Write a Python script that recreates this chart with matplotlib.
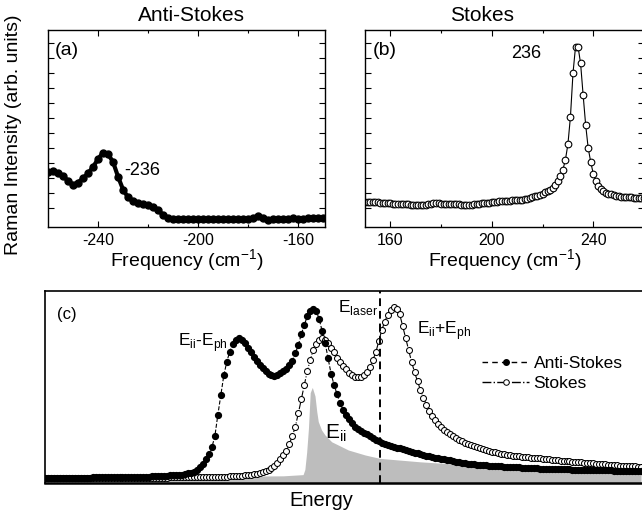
import matplotlib.pyplot as plt
import numpy as np

plt.rcParams['font.family'] = ['Liberation Sans', 'DejaVu Sans']
plt.rcParams['mathtext.fontset'] = 'custom'
plt.rcParams['mathtext.rm'] = 'Liberation Sans'
plt.rcParams['axes.unicode_minus'] = False

# (a) anti-Stokes spectrum
as_freq = np.arange(-260, -147, 2)
as_int = [0.278, 0.285, 0.275, 0.258, 0.235, 0.215, 0.225, 0.248, 0.272, 0.305,
          0.345, 0.378, 0.370, 0.330, 0.255, 0.190, 0.150, 0.132, 0.122, 0.117,
          0.112, 0.102, 0.085, 0.062, 0.046, 0.040, 0.039, 0.041, 0.040, 0.039,
          0.041, 0.040, 0.042, 0.040, 0.039, 0.041, 0.042, 0.041, 0.040, 0.042,
          0.043, 0.045, 0.056, 0.044, 0.038, 0.041, 0.042, 0.040, 0.043, 0.044,
          0.041, 0.043, 0.045, 0.044, 0.045, 0.046, 0.045]

# (b) Stokes spectrum
st_freq = np.arange(150, 261, 1)
st_int = [0.128, 0.128, 0.127, 0.126, 0.126, 0.125, 0.124, 0.123, 0.122, 0.121,
          0.120, 0.119, 0.118, 0.118, 0.117, 0.117, 0.116, 0.115, 0.114, 0.113,
          0.113, 0.112, 0.112, 0.112, 0.113, 0.115, 0.118, 0.120, 0.120, 0.120,
          0.119, 0.118, 0.117, 0.117, 0.117, 0.117, 0.116, 0.115, 0.114, 0.113,
          0.112, 0.112, 0.113, 0.115, 0.117, 0.119, 0.121, 0.122, 0.123, 0.124,
          0.125, 0.126, 0.128, 0.130, 0.131, 0.132, 0.133, 0.134, 0.135, 0.136,
          0.136, 0.137, 0.138, 0.140, 0.143, 0.147, 0.151, 0.155, 0.159, 0.163,
          0.169, 0.176, 0.183, 0.190, 0.200, 0.215, 0.236, 0.258, 0.290, 0.340,
          0.420, 0.560, 0.780, 0.915, 0.915, 0.830, 0.670, 0.518, 0.400, 0.330,
          0.270, 0.235, 0.210, 0.193, 0.183, 0.175, 0.169, 0.165, 0.161, 0.158,
          0.156, 0.154, 0.153, 0.152, 0.151, 0.150, 0.149, 0.148, 0.147, 0.146,
          0.146]

# (c) resonance profiles vs energy (arb. units)
energy = np.arange(0, 100.5, 0.5)
anti_stokes = [0.002, 0.002, 0.002, 0.002, 0.002, 0.002, 0.002, 0.003, 0.003, 0.003,
               0.003, 0.003, 0.003, 0.003, 0.003, 0.003, 0.004, 0.004, 0.004, 0.004,
               0.004, 0.004, 0.005, 0.005, 0.005, 0.005, 0.006, 0.006, 0.006, 0.007,
               0.007, 0.007, 0.008, 0.008, 0.009, 0.009, 0.010, 0.011, 0.011, 0.012,
               0.013, 0.014, 0.015, 0.016, 0.017, 0.018, 0.020, 0.023, 0.027, 0.032,
               0.038, 0.048, 0.062, 0.085, 0.110, 0.140, 0.180, 0.245, 0.370, 0.485,
               0.600, 0.680, 0.740, 0.785, 0.810, 0.817, 0.805, 0.790, 0.762, 0.735,
               0.706, 0.685, 0.663, 0.645, 0.625, 0.610, 0.600, 0.596, 0.602, 0.613,
               0.625, 0.640, 0.660, 0.685, 0.730, 0.778, 0.840, 0.895, 0.945, 0.975,
               0.988, 0.978, 0.930, 0.860, 0.790, 0.700, 0.610, 0.545, 0.490, 0.440,
               0.400, 0.370, 0.345, 0.320, 0.300, 0.287, 0.275, 0.265, 0.255, 0.244,
               0.234, 0.224, 0.215, 0.207, 0.199, 0.193, 0.187, 0.182, 0.177, 0.173,
               0.169, 0.164, 0.159, 0.154, 0.149, 0.144, 0.139, 0.135, 0.131, 0.127,
               0.123, 0.120, 0.117, 0.113, 0.110, 0.107, 0.103, 0.099, 0.096, 0.092,
               0.088, 0.086, 0.084, 0.082, 0.080, 0.078, 0.077, 0.075, 0.074, 0.073,
               0.072, 0.070, 0.069, 0.068, 0.067, 0.066, 0.065, 0.064, 0.063, 0.062,
               0.060, 0.059, 0.058, 0.058, 0.057, 0.056, 0.055, 0.055, 0.054, 0.054,
               0.053, 0.052, 0.052, 0.051, 0.051, 0.050, 0.050, 0.049, 0.049, 0.048,
               0.048, 0.048, 0.047, 0.047, 0.047, 0.046, 0.046, 0.046, 0.045, 0.045,
               0.045, 0.044, 0.044, 0.044, 0.044, 0.043, 0.043, 0.043, 0.043, 0.042,
               0.042]
stokes = [0.001, 0.001, 0.001, 0.001, 0.001, 0.001, 0.001, 0.001, 0.001, 0.001,
          0.001, 0.001, 0.001, 0.001, 0.001, 0.001, 0.001, 0.001, 0.001, 0.001,
          0.001, 0.002, 0.002, 0.002, 0.002, 0.002, 0.002, 0.002, 0.002, 0.002,
          0.002, 0.002, 0.002, 0.002, 0.003, 0.003, 0.003, 0.003, 0.003, 0.003,
          0.003, 0.003, 0.004, 0.004, 0.004, 0.004, 0.004, 0.005, 0.005, 0.005,
          0.005, 0.005, 0.005, 0.006, 0.006, 0.006, 0.006, 0.007, 0.007, 0.008,
          0.008, 0.009, 0.010, 0.011, 0.012, 0.013, 0.014, 0.015, 0.017, 0.019,
          0.022, 0.025, 0.030, 0.036, 0.042, 0.048, 0.058, 0.072, 0.090, 0.110,
          0.135, 0.160, 0.200, 0.245, 0.300, 0.378, 0.460, 0.545, 0.625, 0.690,
          0.749, 0.785, 0.808, 0.817, 0.805, 0.788, 0.760, 0.735, 0.705, 0.680,
          0.655, 0.635, 0.615, 0.600, 0.592, 0.589, 0.593, 0.603, 0.622, 0.650,
          0.690, 0.735, 0.800, 0.865, 0.915, 0.955, 0.985, 0.998, 0.990, 0.960,
          0.890, 0.820, 0.750, 0.680, 0.620, 0.565, 0.515, 0.470, 0.427, 0.395,
          0.365, 0.338, 0.315, 0.298, 0.282, 0.268, 0.256, 0.244, 0.234, 0.224,
          0.215, 0.207, 0.200, 0.193, 0.187, 0.181, 0.176, 0.170, 0.165, 0.160,
          0.155, 0.151, 0.147, 0.143, 0.140, 0.136, 0.133, 0.131, 0.129, 0.127,
          0.125, 0.123, 0.121, 0.120, 0.118, 0.116, 0.115, 0.113, 0.111, 0.109,
          0.107, 0.106, 0.104, 0.102, 0.101, 0.099, 0.098, 0.096, 0.095, 0.093,
          0.092, 0.090, 0.089, 0.087, 0.086, 0.084, 0.083, 0.081, 0.080, 0.079,
          0.077, 0.076, 0.075, 0.073, 0.072, 0.071, 0.070, 0.069, 0.068, 0.067,
          0.066]
# joint density of states (gray area)
dos_energy = [0, 20, 40, 43.3, 43.6, 43.9, 44.2, 44.5, 44.85, 45.3, 45.6, 45.85,
              46.4, 47.0, 48.1, 50.9, 53.7, 56.2, 62.9, 69.6, 77.2, 100]
dos = [0.005, 0.008, 0.013, 0.020, 0.050, 0.150, 0.290, 0.500, 0.530, 0.480, 0.388,
       0.330, 0.281, 0.251, 0.212, 0.164, 0.135, 0.115, 0.095, 0.080, 0.064, 0.045]
e_laser = 56.2

W, H = 642, 516
fig = plt.figure(figsize=(W / 100, H / 100), dpi=100)


def box(l, t, r, b):
    return [l / W, 1 - b / H, (r - l) / W, (b - t) / H]


ax_a = fig.add_axes(box(48, 30, 325, 227))
ax_b = fig.add_axes(box(365, 30, 644, 227))
ax_c = fig.add_axes(box(45, 291, 644, 483))

yt = np.arange(0.095, 0.94, 0.0761)
for ax in (ax_a, ax_b):
    ax.set_ylim(0, 1)
    ax.set_yticks(yt)
    ax.set_yticklabels([])
    ax.tick_params(direction='in', top=True, right=True, length=4, width=0.8,
                   labelsize=11.5, pad=4)
    ax.tick_params(which='minor', direction='in', top=True, right=True,
                   length=2.5, width=0.8)
    for s in ax.spines.values():
        s.set_linewidth(1.0)
    ax.set_xlabel('Frequency (cm$^{\\mathregular{-1}}$)', fontsize=14, labelpad=0)

ax_a.plot(as_freq, as_int, '-', color='black', lw=3, marker='o', ms=5,
          mfc='black', mec='black')
ax_a.set_xlim(-260, -149.3)
ax_a.set_xticks([-240, -200, -160])
ax_a.set_xticks([-220, -180], minor=True)
ax_a.text(0.518, 1.076, 'Anti-Stokes', transform=ax_a.transAxes, ha='center',
          va='center', fontsize=15)
ax_a.text(0.025, 0.895, '(a)', transform=ax_a.transAxes, fontsize=14, va='center')
ax_a.text(-229.6, 0.289, '-236', fontsize=13, va='center')
ax_a.set_ylabel('Raman Intensity (arb. units)', fontsize=14)
ax_a.yaxis.set_label_coords(-0.094, 0.467)

ax_b.plot(st_freq, st_int, '-', color='black', lw=0.8, marker='o', ms=4.8,
          mfc='white', mec='black', mew=0.8)
ax_b.set_xlim(150, 260)
ax_b.set_xticks([160, 200, 240])
ax_b.set_xticks([180, 220], minor=True)
ax_b.text(0.42, 1.076, 'Stokes', transform=ax_b.transAxes, ha='center',
          va='center', fontsize=15)
ax_b.text(0.028, 0.895, '(b)', transform=ax_b.transAxes, fontsize=14, va='center')
ax_b.text(207.5, 0.88, '236', fontsize=13, va='center')

# (c)
ax_c.set_xlim(0, 100.5)
ax_c.set_ylim(-0.029, 1.094)
ax_c.fill_between(dos_energy, -0.03, dos, color='#bdbdbd', lw=0, zorder=1)
ax_c.plot(energy, stokes, linestyle='-.', color='black', lw=0.8, marker='o',
          ms=4.3, mfc='white', mec='black', mew=0.75, zorder=3)
ax_c.plot(energy, anti_stokes, linestyle='--', color='black', lw=0.8, marker='o',
          ms=4.2, mfc='black', mec='black', zorder=4)
ax_c.axvline(e_laser, color='black', lw=1.4, ls=(0, (4, 2.5)), zorder=5)
ax_c.set_xticks([])
ax_c.set_yticks([])
for s in ax_c.spines.values():
    s.set_linewidth(1.2)
ax_c.spines['bottom'].set_linewidth(1.8)

h_as = plt.Line2D([], [], linestyle=(0, (4, 3)), color='black', lw=1, marker='o',
                  ms=4, mfc='black', mec='black')
h_st = plt.Line2D([], [], linestyle='-.', color='black', lw=1, marker='o',
                  ms=4, mfc='white', mec='black', mew=0.7)
ax_c.legend([h_as, h_st], ['Anti-Stokes', 'Stokes'], loc='center left',
            bbox_to_anchor=(0.73, 0.57), frameon=False, fontsize=12.5,
            numpoints=1, handlelength=2.7, handletextpad=0.25,
            labelspacing=0.3, borderaxespad=0, borderpad=0)

ax_c.text(0.02, 0.875, '(c)', transform=ax_c.transAxes, fontsize=12, va='center')
ax_c.text(22.3, 0.795, 'E$_{\\mathregular{ii}}$-E$_{\\mathregular{ph}}$',
          fontsize=12.5, va='center')
ax_c.text(49.2, 1.0, 'E$_{\\mathregular{laser}}$', fontsize=12.5, va='center')
ax_c.text(62.4, 0.865, 'E$_{\\mathregular{ii}}$+E$_{\\mathregular{ph}}$',
          fontsize=12.5, va='center')
ax_c.text(47.0, 0.26, 'E$_{\\mathregular{ii}}$', fontsize=15, va='center')
ax_c.text(0.462, -0.09, 'Energy', transform=ax_c.transAxes, ha='center',
          va='center', fontsize=14.5)

fig.savefig('out.png', dpi=100)
